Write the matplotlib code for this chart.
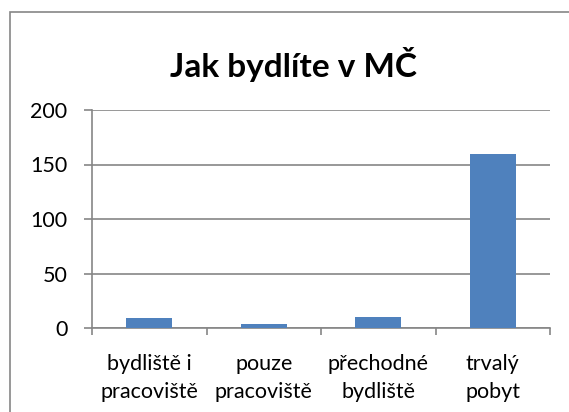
import matplotlib
matplotlib.use("Agg")
import matplotlib.pyplot as plt
from matplotlib.patches import Rectangle

# hodnoty
kategorie = ["bydliště i\npracoviště", "pouze\npracoviště", "přechodné\nbydliště", "trvalý\npobyt"]
pocty = [9, 4, 10, 160]
y_ticks = [0, 50, 100, 150, 200]

plt.rcParams['font.family'] = ['Lato', 'DejaVu Sans']

fig = plt.figure(figsize=(5.69, 4.12), dpi=100)
ax = fig.add_axes([92 / 569, 1 - 328 / 412, (550 - 92) / 569, (328 - 110) / 412])

pozice = list(range(len(kategorie)))
ax.bar(pozice, pocty, width=0.4, color="#4F81BD", zorder=3)

ax.set_xlim(-0.5, len(kategorie) - 0.5)
ax.set_ylim(0, 200)
ax.set_yticks(y_ticks)
ax.set_yticklabels([str(v) for v in y_ticks], fontsize=15.5)
ax.yaxis.grid(True, color="#868686", linewidth=1.2, zorder=0)

# čárky na ose x mezi kategoriemi
ax.set_xticks([p - 0.5 for p in pozice] + [len(kategorie) - 0.5])
ax.set_xticklabels([])
ax.set_xticks(pozice, minor=True)
ax.set_xticklabels(kategorie, minor=True, fontsize=15.5, linespacing=1.45)
ax.tick_params(axis="x", which="minor", length=0, pad=19)
ax.tick_params(axis="x", which="major", length=5, width=1.2, color="#868686")
ax.tick_params(axis="y", length=5.8, width=1.2, color="#868686", pad=12)

for side in ["top", "right"]:
    ax.spines[side].set_visible(False)
for side in ["left", "bottom"]:
    ax.spines[side].set_color("#868686")
    ax.spines[side].set_linewidth(1.2)

# okraj oblasti grafu
fig.patches.append(Rectangle((10 / 569, -0.1), 1.2, 1 - 12 / 412 + 0.1, transform=fig.transFigure,
                             fill=False, edgecolor="#868686", linewidth=1.2))

fig.text(294 / 569, 1 - 64 / 412, "Jak bydlíte v MČ", ha="center", va="center",
         fontsize=24, fontweight="bold")

fig.savefig("out.png", dpi=100)
